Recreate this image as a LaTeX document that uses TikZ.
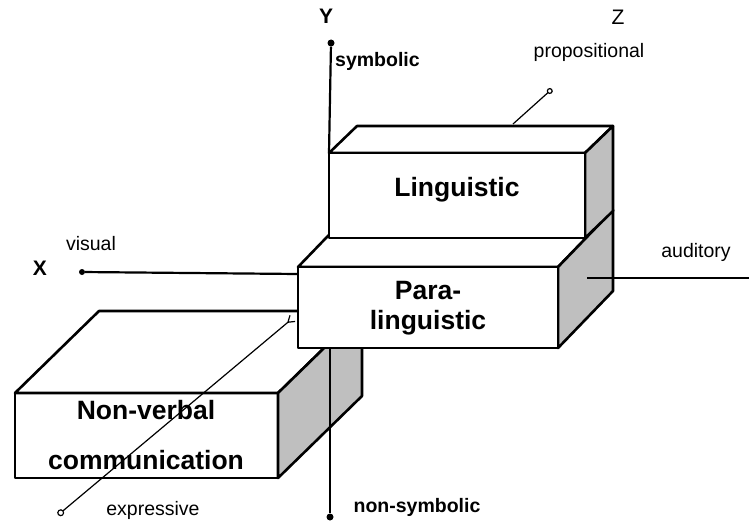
\documentclass[tikz,border=0pt]{standalone}
\usepackage{fontspec}
\setmainfont{Liberation Sans}
\usetikzlibrary{arrows.meta}
\begin{document}
\begin{tikzpicture}[x=1pt,y=-1pt,
  edge/.style={line width=2.6pt, line join=round},
  face/.style={edge, fill=white},
  shadeface/.style={edge, fill=gray!50},
  axis/.style={line width=2.2pt},
  zaxis/.style={line width=1.2pt},
  boxlabel/.style={font=\bfseries\fontsize{26.5}{30}\selectfont, align=center, inner sep=0pt},
  axlabel/.style={font=\fontsize{19.5}{22}\selectfont, inner sep=0pt},
  axbold/.style={font=\bfseries\fontsize{19.5}{22}\selectfont, inner sep=0pt},
  letter/.style={font=\bfseries\fontsize{21}{24}\selectfont, inner sep=0pt},
  dot/.style={circle, fill=black, inner sep=0pt, minimum size=7pt}]
\useasboundingbox (0,0) rectangle (749,527);

% axis end points
\node[dot] (ytop) at (331,43) {};
\node[dot] (ybot) at (330,517) {};
\node[dot, minimum size=6pt] (xend) at (82,272) {};
\coordinate (xin) at (298,274);
\coordinate (xout) at (587,278);
\coordinate (xfar) at (749,278);
\coordinate (ymid) at (330,348);
\coordinate (zfront) at (58,515);
\coordinate (ztail) at (293,318);
\coordinate (zback) at (513,124);
\coordinate (zend) at (552,89);

% X axis, visual side
\draw[axis] (xend) -- (xin);

% Non-verbal communication block
\coordinate (n1) at (15,393);
\coordinate (n2) at (278,393);
\coordinate (n3) at (278,478);
\coordinate (n5) at (99,311);
\coordinate (n6) at (362,311);
\coordinate (n7) at (362,396);
\draw[face] (n1) rectangle (n3);
\draw[face] (n1) -- (n5) -- (n6) -- (n2) -- cycle;
\draw[shadeface] (n2) -- (n6) -- (n7) -- (n3) -- cycle;

% Para-linguistic block
\coordinate (p1) at (298,267);
\coordinate (p2) at (558,267);
\coordinate (p3) at (558,348);
\coordinate (p5) at (353,210);
\coordinate (p6) at (613,210);
\coordinate (p7) at (613,291);
\draw[face] (p1) -- (p5) -- (p6) -- (p2) -- cycle;
\draw[shadeface] (p2) -- (p6) -- (p7) -- (p3) -- cycle;
\draw[face] (p1) rectangle (p3);

% Linguistic block
\coordinate (l1) at (329,153);
\coordinate (l2) at (585,153);
\coordinate (l3) at (585,238);
\coordinate (l5) at (357,126);
\coordinate (l6) at (613,126);
\coordinate (l7) at (613,211);
\draw[face] (l1) -- (l5) -- (l6) -- (l2) -- cycle;
\draw[shadeface] (l2) -- (l6) -- (l7) -- (l3) -- cycle;
\draw[face] (l1) rectangle (l3);

% Y axis
\draw[axis] (ytop) -- (l1);
\draw[axis] (ymid) -- (ybot);

% X axis, auditory side
\draw[axis] (xout) -- (xfar);

% Z axis
\draw[zaxis, {Circle[open,length=7pt,width=7pt]}-{Straight Barb[reversed,length=6pt,width=8pt]}] (zfront) -- (ztail);
\draw[zaxis, -{Circle[open,length=6pt,width=6pt]}] (zback) -- (zend);

% block labels
\node[boxlabel] (ling) at (457,190) {Linguistic};
\node[boxlabel] (para) at (428,308) {Para-\\linguistic};
\node[boxlabel, font=\bfseries\fontsize{26.5}{50}\selectfont] (nonverbal) at (146,435) {Non-verbal\\communication};

% axis labels
\node[letter] (ylab) at (326,16) {Y};
\node[letter, font=\fontsize{21}{24}\selectfont] (zlab) at (618,17) {Z};
\node[letter] (xlab) at (40,268) {X};
\node[axbold, anchor=west] (symb) at (335,61) {symbolic};
\node[axbold] (nonsymb) at (417,507) {non-symbolic};
\node[axlabel] (prop) at (589,52) {propositional};
\node[axlabel] (vis) at (91,244) {visual};
\node[axlabel] (aud) at (696,252) {auditory};
\node[axlabel] (expr) at (153,510) {expressive};
\end{tikzpicture}
\end{document}
